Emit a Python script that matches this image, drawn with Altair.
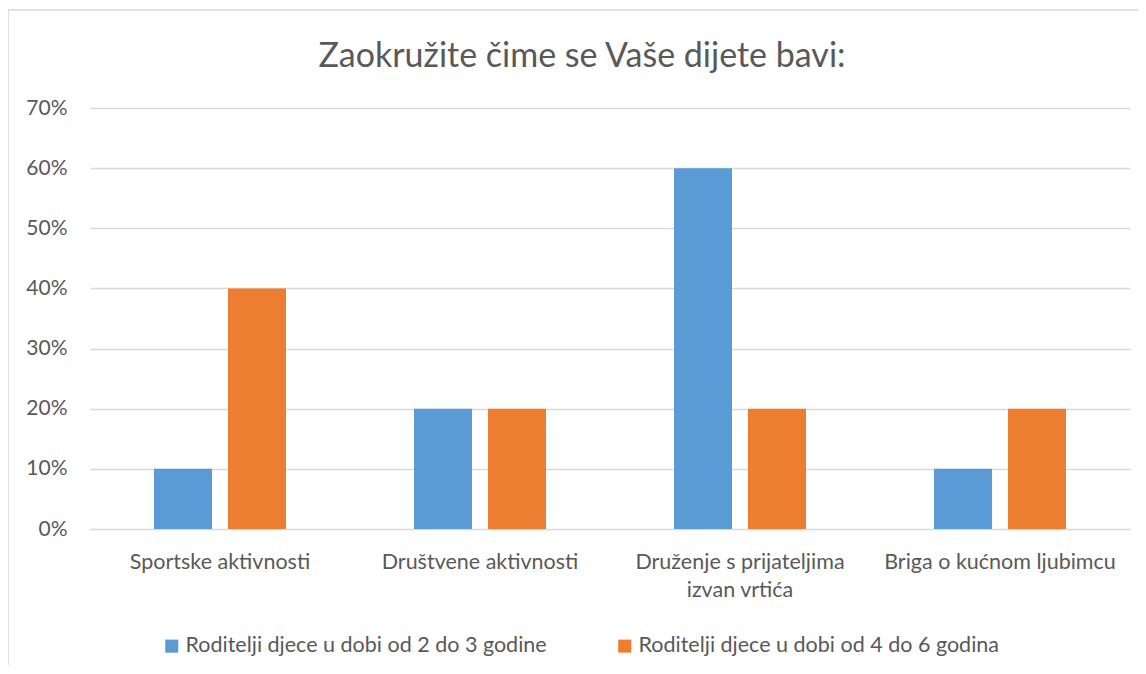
import altair as alt
import pandas as pd

categories = ["Sportske aktivnosti", "Društvene aktivnosti",
              "Druženje s prijateljima izvan vrtića", "Briga o kućnom ljubimcu"]
series = ["Roditelji djece u dobi od 2 do 3 godine",
          "Roditelji djece u dobi od 4 do 6 godina"]
values_2_3 = [0.10, 0.20, 0.60, 0.10]
values_4_6 = [0.40, 0.20, 0.20, 0.20]
colors = ["#5B9BD5", "#ED7D31"]

rows = []
for c, v in zip(categories, values_2_3):
    rows.append({"kategorija": c, "skupina": series[0], "udio": v})
for c, v in zip(categories, values_4_6):
    rows.append({"kategorija": c, "skupina": series[1], "udio": v})
df = pd.DataFrame(rows)

FONT = "Lato"
TXT = "#595959"
GRID = "#D9D9D9"

bars = alt.Chart(df).mark_bar().encode(
    x=alt.X("kategorija:N", sort=categories, title=None,
            scale=alt.Scale(paddingInner=0, paddingOuter=0),
            axis=alt.Axis(labelAngle=0, ticks=False, domain=True, domainColor=GRID,
                          labelFont=FONT, labelFontSize=21.5, labelColor=TXT,
                          labelPadding=22, labelLineHeight=28, labelLimit=300,
                          labelExpr="datum.label == 'Druženje s prijateljima izvan vrtića' ? ['Druženje s prijateljima', 'izvan vrtića'] : datum.label")),
    xOffset=alt.XOffset("skupina:N", sort=series,
                        scale=alt.Scale(paddingInner=0.216, paddingOuter=0.865)),
    y=alt.Y("udio:Q", title=None,
            scale=alt.Scale(domain=[0, 0.7], nice=False),
            axis=alt.Axis(format=".0%", values=[0, 0.1, 0.2, 0.3, 0.4, 0.5, 0.6, 0.7],
                          ticks=False, domain=False, gridColor=GRID, gridWidth=1.3,
                          labelFont=FONT, labelFontSize=21, labelColor=TXT,
                          labelPadding=23)),
    color=alt.Color("skupina:N", sort=series, title=None,
                    scale=alt.Scale(domain=series, range=colors),
                    legend=alt.Legend(orient="none", direction="horizontal", columns=2,
                                      legendX=71, legendY=527, symbolType="square",
                                      symbolSize=170, symbolStrokeWidth=0,
                                      labelFont=FONT, labelFontSize=21.5, labelColor=TXT,
                                      labelLimit=600, columnPadding=67, labelOffset=3)),
)

frame_top = alt.Chart(pd.DataFrame({"k": [0]})).mark_rule(color=GRID, strokeWidth=1.5).encode(
    x=alt.value(-82), x2=alt.value(1060), y=alt.value(-98))
frame_left = alt.Chart(pd.DataFrame({"k": [0]})).mark_rule(color=GRID, strokeWidth=1.5).encode(
    x=alt.value(-82), y=alt.value(-98), y2=alt.value(640))

chart = alt.layer(bars, frame_top, frame_left).properties(
    width=1040, height=421,
    padding={"left": 82, "top": 100, "right": 8, "bottom": 136},
    autosize=alt.AutoSizeParams(type="none"),
    title=alt.TitleParams("Zaokružite čime se Vaše dijete bavi:", font=FONT, fontSize=34,
                          fontWeight="normal", color=TXT, anchor="middle", dx=-28,
                          offset=-65),
).configure_view(stroke=None)

chart.save("out.html", embed_options={"renderer": "svg", "actions": False})
